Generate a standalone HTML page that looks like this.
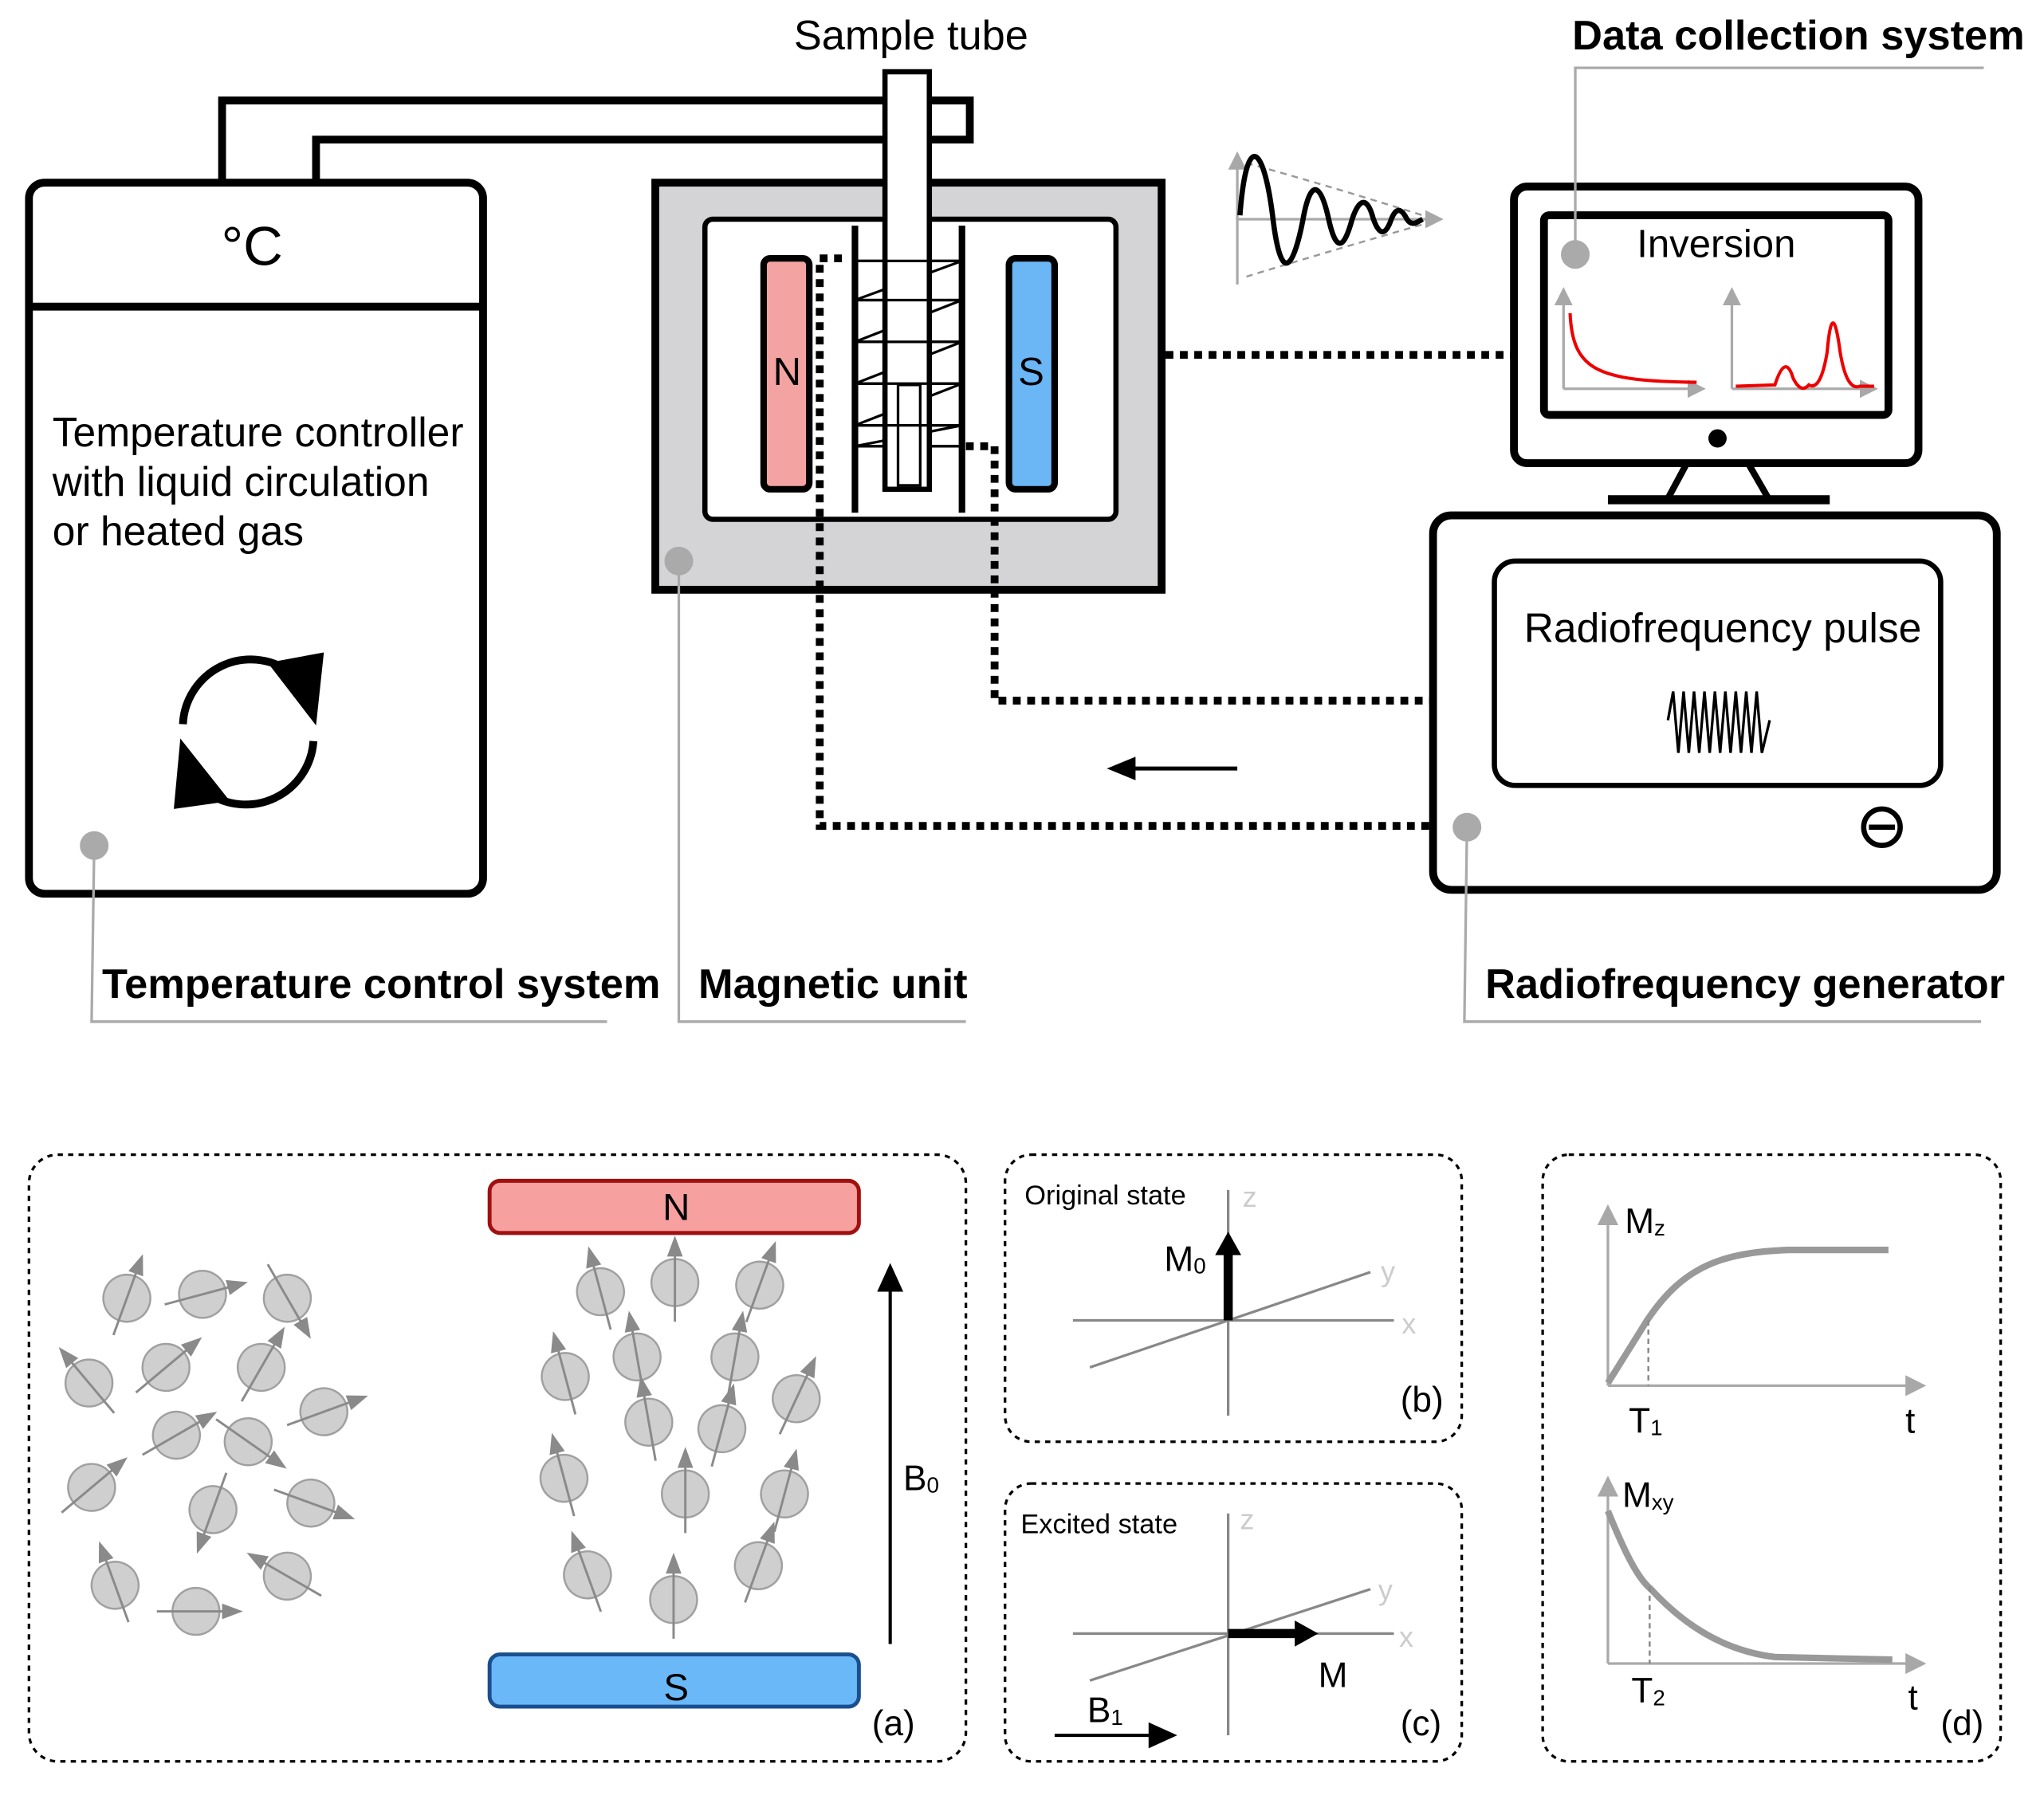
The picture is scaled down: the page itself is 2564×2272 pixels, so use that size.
<!DOCTYPE html>
<html><head><meta charset="utf-8"><style>
html,body{margin:0;padding:0;background:#fff}
svg{display:block}
text{font-family:"Liberation Sans",Arial,sans-serif}
</style></head><body>
<svg width="2564" height="2272" viewBox="0 0 1566 1388" xmlns="http://www.w3.org/2000/svg">
<defs>
<g id="spin">
<circle r="18" fill="#cfcfcf" stroke="#a0a0a0" stroke-width="1.5"/>
<line x1="0" y1="30" x2="0" y2="-22" stroke="#8a8a8a" stroke-width="1.8"/>
<polygon points="-6,-20 6,-20 0,-36" fill="#8a8a8a"/>
</g>
<marker id="ah" markerWidth="10" markerHeight="10" refX="8" refY="5" orient="auto" markerUnits="userSpaceOnUse"><path d="M0,0 L10,5 L0,10z" fill="#000"/></marker>
<marker id="ahg" markerWidth="16" markerHeight="16" refX="14" refY="8" orient="auto" markerUnits="userSpaceOnUse"><path d="M0,0 L16,8 L0,16z" fill="#a8a8a8"/></marker>
<marker id="ahr" markerWidth="14" markerHeight="14" refX="12" refY="7" orient="auto" markerUnits="userSpaceOnUse"><path d="M0,0 L14,7 L0,14z" fill="#a8a8a8"/></marker>
</defs>

<path d="M170,140 L170,77 L743,77 L743,107 L242,107 L242,140" fill="none" stroke="#000" stroke-width="6"/>

<rect x="22" y="140" width="348" height="545" rx="12" fill="#fff" stroke="#000" stroke-width="6"/>
<path d="M22,235 L370,235" stroke="#000" stroke-width="6"/>
<text x="193" y="203" font-size="42" text-anchor="middle">°C</text>
<text x="40" y="342" font-size="31.5">Temperature controller</text>
<text x="40" y="380" font-size="31.5">with liquid circulation</text>
<text x="40" y="418" font-size="31.5">or heated gas</text>
<path d="M140,555 A52,52 0 0 1 222,515" fill="none" stroke="#000" stroke-width="6"/>
<polygon points="205,508 248,500 242,556" fill="#000"/>
<path d="M240,568 A52,52 0 0 1 158,607" fill="none" stroke="#000" stroke-width="6"/>
<polygon points="176,614 133,620 138,566" fill="#000"/>
<circle cx="72" cy="648" r="11" fill="#aaa"/>
<path d="M72,648 L70,783 L465,783" fill="none" stroke="#aaa" stroke-width="2"/>
<text x="78" y="765" font-size="32" font-weight="bold">Temperature control system</text>

<rect x="502" y="140" width="388" height="312" fill="#d4d4d6" stroke="#000" stroke-width="6"/>
<rect x="540" y="168" width="315" height="230" rx="6" fill="#fff" stroke="#000" stroke-width="4"/>
<rect x="585" y="198" width="35" height="177" rx="5" fill="#f4a3a3" stroke="#000" stroke-width="5"/>
<rect x="773" y="198" width="35" height="177" rx="5" fill="#6bb6f5" stroke="#000" stroke-width="5"/>
<text x="603" y="295" font-size="30" text-anchor="middle">N</text>
<text x="790" y="295" font-size="30" text-anchor="middle">S</text>
<line x1="655" y1="173" x2="655" y2="393" stroke="#000" stroke-width="5"/>
<line x1="737" y1="173" x2="737" y2="393" stroke="#000" stroke-width="5"/>
<path d="M655,200 L737,200 L655,230 L737,230 L655,262 L737,262 L655,294 L737,294 L655,326 L737,326 L655,342 L737,342" fill="none" stroke="#000" stroke-width="2"/>
<rect x="678" y="55" width="34" height="320" fill="#fff" stroke="#000" stroke-width="4"/>
<path d="M655,200 L737,200 M655,230 L737,230 M655,262 L737,262 M655,294 L737,294 M655,326 L737,326" stroke="#000" stroke-width="2"/>
<rect x="688" y="295" width="17" height="77" fill="none" stroke="#000" stroke-width="2"/>
<text x="698" y="38" font-size="32" text-anchor="middle">Sample tube</text>
<path d="M645,198 L628,198 L628,633 L1097,633" fill="none" stroke="#000" stroke-width="6" stroke-dasharray="6,5"/>
<path d="M740,342 L762,342 L762,537 L1097,537" fill="none" stroke="#000" stroke-width="6" stroke-dasharray="6,5"/>
<path d="M893,272 L1160,272" fill="none" stroke="#000" stroke-width="6" stroke-dasharray="6,5"/>
<circle cx="520" cy="430" r="11" fill="#aaa"/>
<path d="M520,430 L520,783 L740,783" fill="none" stroke="#aaa" stroke-width="2"/>
<text x="535" y="765" font-size="32" font-weight="bold">Magnetic unit</text>

<line x1="948" y1="218" x2="948" y2="118" stroke="#aaa" stroke-width="2" marker-end="url(#ahr)"/>
<line x1="948" y1="168" x2="1104" y2="168" stroke="#aaa" stroke-width="2" marker-end="url(#ahr)"/>
<path d="M955,125 Q1010,140 1090,165 M955,212 Q1010,195 1090,172" fill="none" stroke="#999" stroke-width="1.5" stroke-dasharray="5,4"/>
<path d="M950,165 C955,100 968,110 975,165 C982,225 992,200 998,170 C1004,135 1012,140 1018,168 C1024,195 1030,190 1036,168 C1042,150 1048,152 1052,167 C1057,182 1062,180 1066,168 C1070,158 1074,160 1078,168 C1082,174 1086,170 1090,168" fill="none" stroke="#000" stroke-width="4"/>

<rect x="1160" y="143" width="310" height="212" rx="10" fill="#fff" stroke="#000" stroke-width="6"/>
<rect x="1183" y="165" width="264" height="153" rx="4" fill="#fff" stroke="#000" stroke-width="6"/>
<text x="1315" y="197" font-size="30" text-anchor="middle">Inversion</text>
<line x1="1198" y1="298" x2="1198" y2="222" stroke="#aaa" stroke-width="2" marker-end="url(#ahr)"/>
<line x1="1198" y1="298" x2="1305" y2="298" stroke="#aaa" stroke-width="2" marker-end="url(#ahr)"/>
<path d="M1203,240 C1205,285 1225,292 1300,293" fill="none" stroke="#e00" stroke-width="2.5"/>
<line x1="1327" y1="298" x2="1327" y2="222" stroke="#aaa" stroke-width="2" marker-end="url(#ahr)"/>
<line x1="1327" y1="298" x2="1437" y2="298" stroke="#aaa" stroke-width="2" marker-end="url(#ahr)"/>
<path d="M1330,296 L1360,295 Q1368,270 1374,290 Q1380,302 1386,295 Q1395,300 1400,270 Q1404,225 1410,270 Q1415,300 1425,296 L1436,296" fill="none" stroke="#e00" stroke-width="2.5"/>
<circle cx="1207" cy="195" r="11" fill="#aaa"/>
<path d="M1207,195 L1207,52 L1520,52" fill="none" stroke="#aaa" stroke-width="2"/>
<text x="1378" y="38" font-size="32" font-weight="bold" text-anchor="middle">Data collection system</text>
<circle cx="1316" cy="336" r="7" fill="#000"/>
<path d="M1292,356 L1278,382 M1340,356 L1355,382" stroke="#000" stroke-width="5"/>
<line x1="1232" y1="383" x2="1402" y2="383" stroke="#000" stroke-width="7"/>

<rect x="1098" y="395" width="432" height="287" rx="14" fill="#fff" stroke="#000" stroke-width="6"/>
<rect x="1145" y="430" width="342" height="172" rx="16" fill="#fff" stroke="#000" stroke-width="4"/>
<text x="1320" y="492" font-size="31.5" text-anchor="middle">Radiofrequency pulse</text>
<path d="M1278,552 L1282,530 L1286,577 L1290,530 L1294,577 L1298,530 L1302,577 L1306,530 L1310,577 L1314,530 L1318,577 L1322,530 L1326,577 L1330,530 L1334,577 L1338,530 L1342,577 L1346,530 L1350,577 L1356,552" fill="none" stroke="#000" stroke-width="2"/>
<circle cx="1442" cy="634" r="14" fill="none" stroke="#000" stroke-width="4"/>
<line x1="1432" y1="634" x2="1452" y2="634" stroke="#000" stroke-width="4"/>
<circle cx="1124" cy="634" r="11" fill="#aaa"/>
<path d="M1124,634 L1122,783 L1518,783" fill="none" stroke="#aaa" stroke-width="2"/>
<text x="1138" y="765" font-size="32" font-weight="bold">Radiofrequency generator</text>
<line x1="948" y1="589" x2="852" y2="589" stroke="#000" stroke-width="3"/>
<polygon points="848,589 870,580 870,598" fill="#000"/>

<rect x="22" y="885" width="718" height="465" rx="22" fill="none" stroke="#000" stroke-width="2" stroke-dasharray="4,4"/>
<rect x="375" y="905" width="283" height="40" rx="8" fill="#f7a0a0" stroke="#a01010" stroke-width="3"/>
<text x="518" y="935" font-size="29" text-anchor="middle">N</text>
<rect x="375" y="1268" width="283" height="40" rx="8" fill="#6ab8f8" stroke="#1a4f8f" stroke-width="3"/>
<text x="518" y="1303" font-size="29" text-anchor="middle">S</text>
<line x1="682" y1="1260" x2="682" y2="985" stroke="#000" stroke-width="2.5"/>
<polygon points="682,968 672,990 692,990" fill="#000"/>
<text x="692" y="1142" font-size="27">B<tspan font-size="17" dy="2">0</tspan></text>
<text x="668" y="1330" font-size="27">(a)</text>
<g>
<use href="#spin" transform="translate(97,995) rotate(20)"/>
<use href="#spin" transform="translate(155,992) rotate(75)"/>
<use href="#spin" transform="translate(220,995) rotate(150)"/>
<use href="#spin" transform="translate(68,1060) rotate(-40)"/>
<use href="#spin" transform="translate(127,1048) rotate(50)"/>
<use href="#spin" transform="translate(200,1048) rotate(30)"/>
<use href="#spin" transform="translate(135,1100) rotate(60)"/>
<use href="#spin" transform="translate(190,1105) rotate(125)"/>
<use href="#spin" transform="translate(248,1082) rotate(70)"/>
<use href="#spin" transform="translate(70,1140) rotate(50)"/>
<use href="#spin" transform="translate(163,1157) rotate(200)"/>
<use href="#spin" transform="translate(238,1152) rotate(110)"/>
<use href="#spin" transform="translate(88,1215) rotate(-20)"/>
<use href="#spin" transform="translate(150,1235) rotate(90)"/>
<use href="#spin" transform="translate(220,1208) rotate(-60)"/>
<use href="#spin" transform="translate(460,990) rotate(-15)"/>
<use href="#spin" transform="translate(517,983) rotate(0)"/>
<use href="#spin" transform="translate(582,985) rotate(20)"/>
<use href="#spin" transform="translate(433,1055) rotate(-15)"/>
<use href="#spin" transform="translate(488,1040) rotate(-10)"/>
<use href="#spin" transform="translate(563,1040) rotate(10)"/>
<use href="#spin" transform="translate(610,1072) rotate(25)"/>
<use href="#spin" transform="translate(497,1090) rotate(-10)"/>
<use href="#spin" transform="translate(553,1095) rotate(15)"/>
<use href="#spin" transform="translate(432,1133) rotate(-15)"/>
<use href="#spin" transform="translate(525,1145) rotate(0)"/>
<use href="#spin" transform="translate(601,1145) rotate(15)"/>
<use href="#spin" transform="translate(450,1207) rotate(-20)"/>
<use href="#spin" transform="translate(516,1226) rotate(0)"/>
<use href="#spin" transform="translate(581,1200) rotate(20)"/>
</g>

<rect x="770" y="885" width="350" height="220" rx="20" fill="none" stroke="#000" stroke-width="2" stroke-dasharray="4,4"/>
<text x="785" y="923" font-size="21">Original state</text>
<line x1="941" y1="912" x2="941" y2="1085" stroke="#888" stroke-width="2"/>
<line x1="822" y1="1012" x2="1068" y2="1012" stroke="#888" stroke-width="2"/>
<line x1="835" y1="1048" x2="1050" y2="975" stroke="#888" stroke-width="2"/>
<text x="952" y="925" font-size="22" fill="#ccc">z</text>
<text x="1058" y="982" font-size="22" fill="#ccc">y</text>
<text x="1074" y="1022" font-size="22" fill="#ccc">x</text>
<line x1="941" y1="1012" x2="941" y2="960" stroke="#000" stroke-width="7"/>
<polygon points="941,944 931,962 951,962" fill="#000"/>
<text x="892" y="974" font-size="27">M<tspan font-size="17" dy="2">0</tspan></text>
<text x="1073" y="1082" font-size="27">(b)</text>

<rect x="770" y="1137" width="350" height="213" rx="20" fill="none" stroke="#000" stroke-width="2" stroke-dasharray="4,4"/>
<text x="782" y="1175" font-size="21">Excited state</text>
<line x1="941" y1="1160" x2="941" y2="1330" stroke="#888" stroke-width="2"/>
<line x1="822" y1="1252" x2="1068" y2="1252" stroke="#888" stroke-width="2"/>
<line x1="835" y1="1288" x2="1050" y2="1218" stroke="#888" stroke-width="2"/>
<text x="950" y="1172" font-size="22" fill="#ccc">z</text>
<text x="1056" y="1226" font-size="22" fill="#ccc">y</text>
<text x="1072" y="1262" font-size="22" fill="#ccc">x</text>
<line x1="941" y1="1252" x2="995" y2="1252" stroke="#000" stroke-width="7"/>
<polygon points="1010,1252 992,1242 992,1262" fill="#000"/>
<text x="1010" y="1293" font-size="27">M</text>
<line x1="808" y1="1330" x2="885" y2="1330" stroke="#000" stroke-width="2.5"/>
<polygon points="902,1330 880,1320 880,1340" fill="#000"/>
<text x="833" y="1320" font-size="27">B<tspan font-size="17" dy="2">1</tspan></text>
<text x="1073" y="1330" font-size="27">(c)</text>

<rect x="1182" y="885" width="351" height="465" rx="20" fill="none" stroke="#000" stroke-width="2" stroke-dasharray="4,4"/>
<line x1="1232" y1="1062" x2="1232" y2="925" stroke="#aaa" stroke-width="2" marker-end="url(#ahg)"/>
<line x1="1232" y1="1062" x2="1474" y2="1062" stroke="#aaa" stroke-width="2" marker-end="url(#ahg)"/>
<path d="M1232,1060 L1262,1012 C1290,970 1320,960 1370,958 L1447,958" fill="none" stroke="#999" stroke-width="5"/>
<line x1="1263" y1="1012" x2="1263" y2="1062" stroke="#888" stroke-width="1.5" stroke-dasharray="4,3"/>
<text x="1245" y="945" font-size="27">M<tspan font-size="17" dy="2">z</tspan></text>
<text x="1248" y="1098" font-size="27">T<tspan font-size="17" dy="2">1</tspan></text>
<text x="1460" y="1098" font-size="27">t</text>
<line x1="1232" y1="1275" x2="1232" y2="1133" stroke="#aaa" stroke-width="2" marker-end="url(#ahg)"/>
<line x1="1232" y1="1275" x2="1474" y2="1275" stroke="#aaa" stroke-width="2" marker-end="url(#ahg)"/>
<path d="M1232,1158 C1245,1190 1255,1210 1265,1218 C1290,1245 1320,1265 1360,1270 L1450,1272" fill="none" stroke="#999" stroke-width="5"/>
<line x1="1264" y1="1216" x2="1264" y2="1275" stroke="#888" stroke-width="1.5" stroke-dasharray="4,3"/>
<text x="1243" y="1155" font-size="27">M<tspan font-size="17" dy="2">xy</tspan></text>
<text x="1250" y="1305" font-size="27">T<tspan font-size="17" dy="2">2</tspan></text>
<text x="1462" y="1310" font-size="27">t</text>
<text x="1487" y="1330" font-size="27">(d)</text>
</svg>
</body></html>
